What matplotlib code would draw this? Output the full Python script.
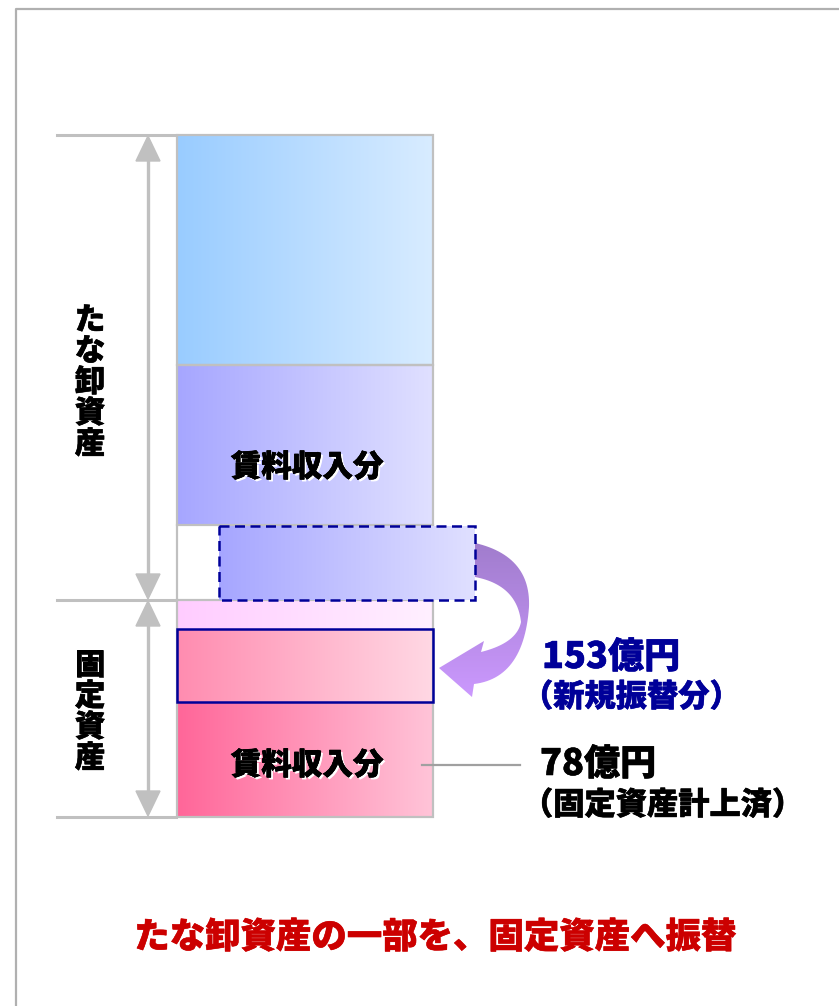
import numpy as np
import matplotlib
matplotlib.use("Agg")
import matplotlib.pyplot as plt
from matplotlib.patches import Rectangle, Polygon
import matplotlib.patheffects as pe

plt.rcParams['font.family'] = ['Noto Sans CJK JP', 'DejaVu Sans']

# -------------------------
# DATA
# -------------------------
group_labels = ["たな卸資産", "固定資産"]
segment_labels = ["賃料収入分", "賃料収入分"]
amounts = [153, 78]
amount_notes = ["（新規振替分）", "（固定資産計上済）"]
title = "たな卸資産の一部を、固定資産へ振替"

GREY = "#c0c0c0"
NAVY = "#000099"
W = "black"


def hexrgb(c):
    c = c.lstrip("#")
    return np.array([int(c[i:i + 2], 16) for i in (0, 2, 4)]) / 255.0


def heavy(color, lw=0.4):
    # thicken glyphs slightly, the original uses a very heavy gothic
    return [pe.withStroke(linewidth=lw, foreground=color)]


def grad_rect(ax, x0, y0, x1, y1, c_left, c_right, z=1):
    t = np.linspace(0, 1, 256)[None, :, None]
    img = hexrgb(c_left) * (1 - t) + hexrgb(c_right) * t
    ax.imshow(img, extent=(x0, x1, y1, y0), aspect="auto",
              interpolation="bilinear", zorder=z)


def bez(p0, c, p1, n=30):
    t = np.linspace(0, 1, n)[:, None]
    p0, c, p1 = map(np.array, (p0, c, p1))
    return (1 - t) ** 2 * p0 + 2 * (1 - t) * t * c + t ** 2 * p1


fig = plt.figure(figsize=(8.39, 10.06), dpi=100)
ax = fig.add_axes([0, 0, 1, 1])

# outer frame
ax.plot([16, 16, 839], [1006, 9, 9], color="#b0b0b0", lw=1.6, zorder=0)

# -------------------------
# COLUMN
# -------------------------
cx0, cx1 = 177, 433
grad_rect(ax, cx0, 135, cx1, 365, "#99ccff", "#d8ecff")
grad_rect(ax, cx0, 365, cx1, 525, "#a6a6ff", "#e0e0ff")
grad_rect(ax, cx0, 600, cx1, 629, "#ffccff", "#fff0ff")
grad_rect(ax, cx0, 629, cx1, 702, "#ff8cb0", "#ffd8e4")
grad_rect(ax, cx0, 702, cx1, 817, "#ff6699", "#ffc4d8")

for y0, y1 in [(135, 365), (365, 525), (600, 817)]:
    ax.add_patch(Rectangle((cx0, y0), cx1 - cx0, y1 - y0, fill=False,
                           ec=GREY, lw=1.6, zorder=3))
ax.plot([cx0, cx0], [525, 600], color=GREY, lw=1.6, zorder=3)
ax.plot([cx1, cx1], [525, 600], color=GREY, lw=1.6, zorder=3)

# moved part (dashed)
grad_rect(ax, 219, 526, 475, 600, "#a6a6ff", "#e0e0ff", z=4)
ax.add_patch(Rectangle((219, 526), 256, 74, fill=False, ec=NAVY, lw=1.8,
                       ls=(0, (4, 2.2)), zorder=5))

# new transfer box
ax.add_patch(Rectangle((cx0, 629), cx1 - cx0, 73, fill=False, ec=NAVY,
                       lw=1.8, zorder=5))

# segment labels
seg_fx = [pe.withSimplePatchShadow(offset=(1.5, -1.5), shadow_rgbFace="white",
                                   alpha=1.0),
          pe.withStroke(linewidth=0.4, foreground="black")]
for lab, yc in zip(segment_labels, [467, 765]):
    ax.text(307, yc, lab, ha="center", va="center", fontsize=22,
            fontweight=W, color="black", path_effects=seg_fx, zorder=6)

# -------------------------
# DIMENSION ARROWS
# -------------------------
for y in [135, 600, 817]:
    ax.plot([57, 176], [y, y], color=GREY, lw=2.2, zorder=2)

ax_x = 148
for y0, y1 in [(135, 600), (600, 817)]:
    ax.plot([ax_x, ax_x], [y0 + 20, y1 - 20], color=GREY, lw=2.4, zorder=2)
    ax.add_patch(Polygon([[ax_x, y0 + 1], [ax_x - 12, y0 + 26],
                          [ax_x + 12, y0 + 26]], color=GREY, zorder=2))
    ax.add_patch(Polygon([[ax_x, y1 - 1], [ax_x - 12, y1 - 26],
                          [ax_x + 12, y1 - 26]], color=GREY, zorder=2))

for lab, y_first in zip(group_labels, [320, 665]):
    for i, ch in enumerate(lab):
        ax.text(90, y_first + i * 31, ch, ha="center", va="center",
                fontsize=22, fontweight=W, color="black",
                path_effects=heavy("black"))

# -------------------------
# CURVED ARROW
# -------------------------
pts = np.vstack([
    bez((475, 543), (531, 556), (529, 607)),
    bez((529, 607), (524, 678), (474, 684)),
    [[472, 697], [439, 668], [484, 641], [481, 652]],
    bez((481, 652), (517, 643), (521, 622)),
    bez((521, 622), (517, 585), (475, 577)),
])
clip = Polygon(pts, closed=True, fc="none", ec="none")
ax.add_patch(clip)
t = np.linspace(0, 1, 256)[:, None, None]
img = hexrgb("#a07ccc") * (1 - t) + hexrgb("#cc99ff") * t
im = ax.imshow(img, extent=(435, 535, 700, 540), aspect="auto",
               interpolation="bilinear", zorder=4)
im.set_clip_path(clip)

# -------------------------
# AMOUNT TEXTS
# -------------------------
ax.text(542, 657, f"{amounts[0]}億円", ha="left", va="center", fontsize=26,
        fontweight=W, color=NAVY, path_effects=heavy(NAVY))
ax.text(522, 697, amount_notes[0], ha="left", va="center", fontsize=22.5,
        fontweight=W, color=NAVY, path_effects=heavy(NAVY))

ax.plot([422, 520], [765, 765], color="#a0a0a0", lw=1.6, zorder=6)
ax.text(540, 764, f"{amounts[1]}億円", ha="left", va="center", fontsize=26,
        fontweight=W, color="black", path_effects=heavy("black"))
ax.text(522, 805, amount_notes[1], ha="left", va="center", fontsize=22.5,
        fontweight=W, color="black", path_effects=heavy("black"))

# title
ax.text(435, 937, title, ha="center", va="center", fontsize=25.5,
        fontweight=W, color="#cc0000", path_effects=heavy("#cc0000"))

ax.set_xlim(0, 839)
ax.set_ylim(1006, 0)
ax.axis("off")

fig.savefig("out.png", dpi=100)
plt.close(fig)
print("[OK] saved out.png")
